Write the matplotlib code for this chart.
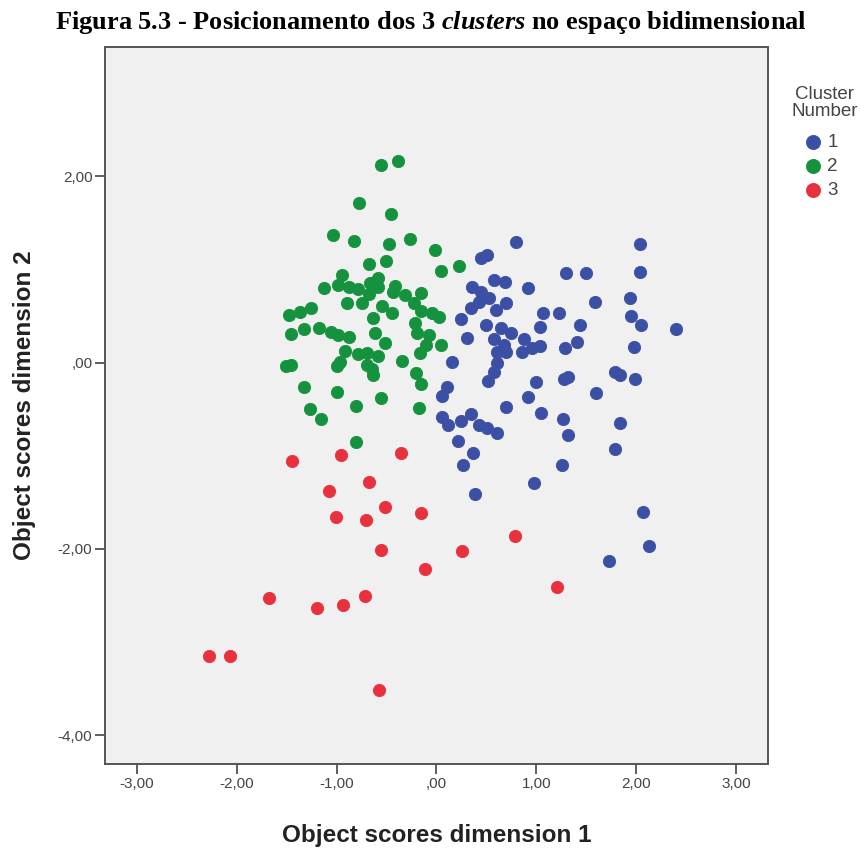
import matplotlib
matplotlib.use('Agg')
import matplotlib.pyplot as plt

# object scores, one list pair per cluster
blue_x = [0.80, 0.45, 0.51, 2.04, 2.04, 1.30, 1.50, 0.58, 0.69, 0.92, 0.36, 0.45, 0.53,
          0.43, 0.35, 0.60, 0.70, 1.59, 1.94, 1.95, 2.05, 0.25, 1.07, 1.23, 0.50, 0.65,
          0.75, 1.04, 1.44, 0.31, 0.58, 0.88, 0.68, 0.61, 0.70, 0.86, 0.96, 1.04, 1.29,
          1.41, 1.98, 0.16, 0.61, 0.58, 0.52, 1.00, 1.32, 1.28, 1.79, 1.84, 1.99, 1.60,
          0.11, 0.06, 0.92, 0.70, 1.05, 1.27, 1.84, 0.06, 0.12, 0.25, 0.35, 0.43, 0.51,
          0.61, 1.32, 1.79, 0.22, 0.37, 0.27, 1.26, 0.98, 0.39, 2.07, 2.13, 1.73, 2.40]
blue_y = [1.30, 1.12, 1.16, 1.28, 0.97, 0.96, 0.96, 0.89, 0.87, 0.80, 0.81, 0.76, 0.69,
          0.65, 0.59, 0.57, 0.64, 0.65, 0.70, 0.50, 0.41, 0.47, 0.53, 0.53, 0.41, 0.37,
          0.32, 0.38, 0.41, 0.26, 0.25, 0.25, 0.19, 0.12, 0.12, 0.12, 0.16, 0.18, 0.16,
          0.22, 0.17, 0.01, 0.00, -0.10, -0.20, -0.21, -0.15, -0.18, -0.10, -0.13, -0.18, -0.33,
          -0.26, -0.36, -0.37, -0.48, -0.54, -0.60, -0.65, -0.58, -0.67, -0.63, -0.55, -0.67, -0.70,
          -0.76, -0.78, -0.93, -0.84, -0.97, -1.10, -1.10, -1.29, -1.41, -1.60, -1.97, -2.13, 0.36]

green_x = [-0.56, -0.39, -0.78, -0.46, -1.04, -0.83, -0.48, -0.27, -0.01, 0.05, 0.23, -0.68,
           -0.51, -1.13, -0.95, -0.99, -0.88, -0.79, -0.67, -0.59, -0.59, -0.68, -0.90, -0.75,
           -0.42, -0.44, -0.32, -0.15, -0.23, -0.15, -0.55, -0.45, -0.64, -0.04, 0.03, -1.48,
           -1.37, -1.26, -1.46, -1.33, -1.18, -1.06, -0.99, -0.88, -0.62, -0.22, -0.20, -0.07,
           -0.52, -0.10, 0.05, -0.92, -0.79, -0.70, -0.59, -0.97, -1.00, -1.51, -1.46, -0.70,
           -0.65, -0.64, -0.35, -0.16, -0.21, -0.15, -1.33, -1.00, -0.56, -0.81, -0.18, -1.27,
           -1.16, -0.81]
green_y = [2.12, 2.17, 1.71, 1.60, 1.37, 1.31, 1.28, 1.33, 1.21, 0.99, 1.04, 1.06,
           1.09, 0.80, 0.94, 0.83, 0.81, 0.79, 0.86, 0.91, 0.81, 0.74, 0.64, 0.64,
           0.82, 0.76, 0.73, 0.75, 0.64, 0.55, 0.61, 0.53, 0.48, 0.53, 0.49, 0.51,
           0.54, 0.59, 0.31, 0.36, 0.37, 0.33, 0.30, 0.28, 0.32, 0.43, 0.32, 0.30,
           0.21, 0.19, 0.19, 0.13, 0.09, 0.10, 0.07, 0.01, -0.04, -0.04, -0.02, -0.02,
           -0.07, -0.13, 0.02, 0.10, -0.11, -0.23, -0.26, -0.32, -0.38, -0.47, -0.49, -0.50,
           -0.60, -0.85]

red_x = [-1.45, -0.96, -0.36, -1.08, -0.68, -0.52, -1.01, -0.71, -0.15, 0.79, -0.56,
         0.26, -0.11, 1.21, -1.68, -1.20, -0.94, -0.72, -2.28, -2.07, -0.58]
red_y = [-1.06, -0.99, -0.97, -1.38, -1.28, -1.55, -1.66, -1.69, -1.61, -1.86, -2.01,
         -2.02, -2.22, -2.41, -2.53, -2.63, -2.60, -2.51, -3.15, -3.15, -3.51]

cluster_labels = ['1', '2', '3']
x_ticks = [-3, -2, -1, 0, 1, 2, 3]
x_ticklabels = ['-3,00', '-2,00', '-1,00', ',00', '1,00', '2,00', '3,00']
y_ticks = [2, 0, -2, -4]
y_ticklabels = ['2,00', ',00', '-2,00', '-4,00']

plt.rcParams['mathtext.fontset'] = 'custom'
plt.rcParams['mathtext.it'] = 'Liberation Serif:italic:bold'
plt.rcParams['mathtext.rm'] = 'Liberation Serif:bold'

fig = plt.figure(figsize=(8.62, 8.49), dpi=100)
ax = fig.add_axes([0.1218, 0.1001, 0.7691, 0.8445])
ax.set_facecolor('#f0f0f0')

colors = ['#3b4fa5', '#15923d', '#e8313d']
for xs, ys, c, lab in zip([blue_x, green_x, red_x], [blue_y, green_y, red_y], colors, cluster_labels):
    ax.scatter(xs, ys, s=78, color=c, edgecolors=c, linewidths=0.6, label=lab, zorder=3)

ax.set_xlim(-3.32, 3.32)
ax.set_ylim(-4.31, 3.39)
ax.set_xticks(x_ticks)
ax.set_xticklabels(x_ticklabels)
ax.set_yticks(y_ticks)
ax.set_yticklabels(y_ticklabels)
ax.tick_params(direction='out', length=7, width=1.2, color='#444444',
               labelsize=11, labelcolor='#444444', pad=2)
for sp in ax.spines.values():
    sp.set_color('#555555')
    sp.set_linewidth(1.4)

ax.set_xlabel('Object scores dimension 1', fontsize=17.5, fontweight='bold',
              family='Liberation Sans', color='#222222', labelpad=24)
ax.set_ylabel('Object scores dimension 2', fontsize=17.5, fontweight='bold',
              family='Liberation Sans', color='#222222', labelpad=16)
for lbl in ax.get_xticklabels() + ax.get_yticklabels():
    lbl.set_family('Liberation Sans')

fig.text(0.5, 0.973, r'Figura 5.3 - Posicionamento dos 3 $\mathit{clusters}$ no espaço bidimensional',
         ha='center', va='center', fontsize=19, fontweight='bold', family='Liberation Serif')

# legend: title as its own text, entries below it
fig.text(825 / 862, 1 - 103 / 849, 'Cluster\nNumber', ha='center', va='center',
         fontsize=13.5, family='Liberation Sans', color='#444444', linespacing=1.05)
leg = ax.legend(loc='upper left', bbox_to_anchor=(804 / 862, 1 - 134 / 849),
                bbox_transform=fig.transFigure, frameon=False, handlelength=1,
                handletextpad=0.25, labelspacing=0.37, borderpad=0, borderaxespad=0,
                markerscale=1.15, prop={'family': 'Liberation Sans', 'size': 13.5})
for t in leg.get_texts():
    t.set_color('#444444')

fig.savefig('out.png', dpi=100)
